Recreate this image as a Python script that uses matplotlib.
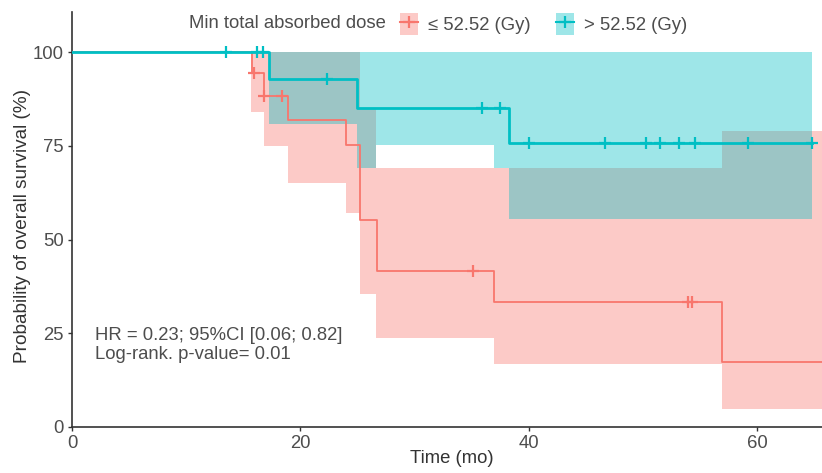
import numpy as np
import matplotlib
matplotlib.use("Agg")
import matplotlib.pyplot as plt
from matplotlib.patches import Patch
from matplotlib.lines import Line2D
from matplotlib.legend_handler import HandlerTuple

plt.rcParams['font.family'] = ['Liberation Sans', 'DejaVu Sans']

# ---------------- data ----------------
legend_title = "Min total absorbed dose"
group_labels = ["\u2264 52.52 (Gy)", "> 52.52 (Gy)"]
group_colors = ["#F8766D", "#00BFC4"]

# group <= 52.52 Gy
low_time = [0, 15.8, 16.8, 18.9, 24.0, 25.2, 26.7, 37.0, 56.9]
low_surv = [100, 94.4, 88.3, 81.9, 75.2, 55.2, 41.7, 33.4, 17.4]
low_end = 66.0
low_ci_time = [0, 15.7, 16.8, 18.9, 24.0, 25.2, 26.6, 37.0, 56.9]
low_ci_lower = [100, 84.1, 75.0, 65.2, 57.0, 35.5, 23.6, 16.7, 4.7]
low_ci_upper = [100, 100, 100, 100, 100, 85.1, 69.0, 69.0, 79.1]
low_censor = [15.9, 16.8, 18.4, 35.1, 54.0, 54.3]

# group > 52.52 Gy
high_time = [0, 17.3, 25.0, 38.3]
high_surv = [100, 92.8, 85.2, 75.7]
high_end = 64.8
high_ci_time = [0, 17.3, 25.0, 26.6, 37.0, 38.3]
high_ci_lower = [100, 80.8, 69.0, 75.2, 69.0, 55.5]
high_ci_upper = [100, 100, 100, 100, 100, 100]
high_censor = [13.5, 16.2, 16.7, 22.3, 35.9, 37.5, 40.0, 46.7, 50.3, 51.5, 53.2, 54.6, 59.2, 64.8]

x_ticks = [0, 20, 40, 60]
y_ticks = [0, 25, 50, 75, 100]
annotation = "HR = 0.23; 95%CI [0.06; 0.82]\nLog-rank. p-value= 0.01"

# ---------------- figure ----------------
W, H = 822, 473
fig = plt.figure(figsize=(W / 100, H / 100), dpi=100)
ax = fig.add_axes([72 / W, 46.3 / H, 750 / W, 414.7 / H])

ALPHA = 0.38
FS = 13.3


def extend(t, v, end):
    return list(t) + [end], list(v) + [v[-1]]


def step_value(t, v, x):
    idx = np.searchsorted(np.asarray(t), x, side="right") - 1
    return np.asarray(v)[idx]


groups = [
    (low_time, low_surv, low_end, low_ci_time, low_ci_lower, low_ci_upper, low_censor, 1.3),
    (high_time, high_surv, high_end, high_ci_time, high_ci_lower, high_ci_upper, high_censor, 2.0),
]

# ribbons
for (t, s, end, ct, cl, cu, cens, lw), col in zip(groups, group_colors):
    tt, ll = extend(ct, cl, end)
    _, uu = extend(ct, cu, end)
    ax.fill_between(tt, ll, uu, step="post", color=col, alpha=ALPHA, lw=0, zorder=1)

# curves + censor marks
for (t, s, end, ct, cl, cu, cens, lw), col in zip(groups, group_colors):
    tt, ss = extend(t, s, end)
    ax.step(tt, ss, where="post", color=col, lw=lw, zorder=3)
    ax.plot(cens, step_value(t, s, cens), ls="none", marker="+", ms=8,
            mew=1.6, color=col, zorder=4)

ax.set_xlim(0, 65.7)
ax.set_ylim(0, 110.8)
ax.set_xticks(x_ticks)
ax.set_yticks(y_ticks)
ax.spines["top"].set_visible(False)
ax.spines["right"].set_visible(False)
for sp in ("left", "bottom"):
    ax.spines[sp].set_color("#333333")
    ax.spines[sp].set_linewidth(1.2)
ax.tick_params(axis="both", length=3, width=1, color="#333333",
               labelsize=FS, labelcolor="#4d4d4d", pad=3)

ax.set_xlabel("Time (mo)", fontsize=FS, color="#333333")
ax.set_ylabel("Probability of overall survival (%)", fontsize=13.7, color="#333333")
ax.xaxis.set_label_coords(0.507, -0.056)
ax.yaxis.set_label_coords(-0.0547, 0.483)

ax.text(2.0, 21.8, annotation, fontsize=FS, color="#4d4d4d",
        ha="left", va="center", linespacing=1.2)

# legend
handles = [
    (Patch(facecolor=c, alpha=ALPHA, lw=0),
     Line2D([], [], color=c, lw=1.5, marker="+", ms=9, mew=1.6))
    for c in group_colors
]
leg = fig.legend(handles, group_labels, handler_map={tuple: HandlerTuple(ndivide=1, pad=0)},
                 loc="center left", bbox_to_anchor=(400 / W, 1 - 24 / H), ncol=2,
                 frameon=False, fontsize=FS, handlelength=1.0, handleheight=1.46,
                 handletextpad=0.54, columnspacing=1.35, borderpad=0, borderaxespad=0)
for txt in leg.get_texts():
    txt.set_color("#4d4d4d")
fig.text(386 / W, 1 - 24 / H, legend_title, ha="right", va="center",
         fontsize=FS, color="#4d4d4d")

fig.savefig("out.png", dpi=100)
